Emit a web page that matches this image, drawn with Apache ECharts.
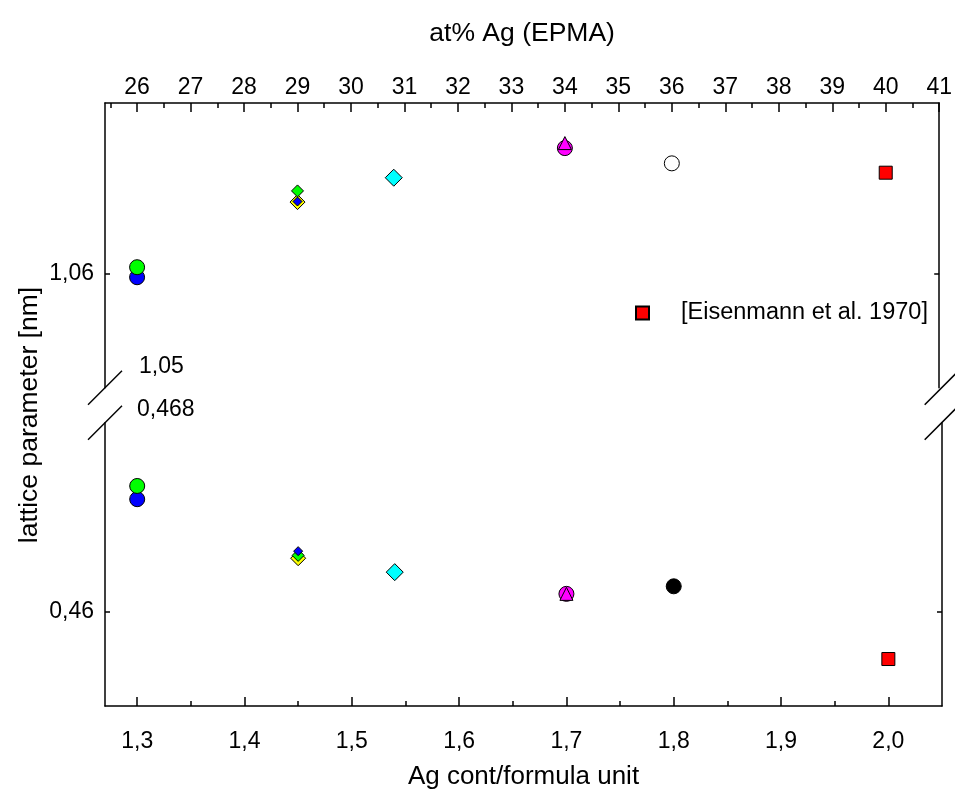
<!DOCTYPE html>
<html>
<head>
<meta charset="utf-8">
<script src="https://cdn.jsdelivr.net/npm/echarts@6/dist/echarts.min.js"></script>
<style>html,body{margin:0;padding:0;background:#fff}#c{width:955px;height:798px}</style>
</head>
<body>
<div id="c"></div>
<script>
// ---- data ----
const seriesNames = ['blueCircle','greenCircle','yellowDiamond','greenDiamond','blueDiamond','cyanDiamond','magentaCircle','magentaTriangle','openCircle','blackCircle','[Eisenmann et al. 1970]'];
const agContent   = [1.30, 1.30, 1.45, 1.45, 1.45, 1.54, 1.70, 1.70, 1.80, 1.80, 2.00];
const upperLattice = [1.0597, 1.06058, 1.0663, 1.06728, 1.06635, 1.06844, 1.07104, 1.07148, 1.0697, null, 1.06888];
const lowerLattice = [0.46476, 0.46532, 0.46226, 0.46238, 0.46256, 0.46167, 0.46075, 0.46075, null, 0.46107, 0.45799];
const bottomTicks = [1.3, 1.4, 1.5, 1.6, 1.7, 1.8, 1.9, 2.0];
const bottomMinorTicks = [1.35, 1.45, 1.55, 1.65, 1.75, 1.85, 1.95];
const topTicks = [26,27,28,29,30,31,32,33,34,35,36,37,38,39,40,41];
const topMinorTicks = [25.5,26.5,27.5,28.5,29.5,30.5,31.5,32.5,33.5,34.5,35.5,36.5,37.5,38.5,39.5,40.5];
const upperTicks = [1.06];
const lowerTicks = [0.46];

// ---- styles ----
const styles = {
  blueCircle:{symbol:'circle',size:15,color:'#0000ff'},
  greenCircle:{symbol:'circle',size:15,color:'#00ff00'},
  yellowDiamond:{symbol:'diamond',size:15,color:'#ffff00'},
  greenDiamond:{symbol:'diamond',size:12,color:'#00ff00'},
  blueDiamond:{symbol:'diamond',size:9,color:'#0000ff'},
  cyanDiamond:{symbol:'diamond',size:17,color:'#00ffff'},
  magentaCircle:{symbol:'circle',size:15,color:'#ff00ff'},
  magentaTriangle:{symbol:'triangle',size:13,color:'#ff00ff'},
  openCircle:{symbol:'circle',size:15,color:'#ffffff'},
  blackCircle:{symbol:'circle',size:15,color:'#000000'},
  '[Eisenmann et al. 1970]':{symbol:'rect',size:13,color:'#ff0000'}
};

const FONT = "'Liberation Sans', Arial, sans-serif";
const xMin = 1.27, xMax = 2.05;
const atFactor = 20; // at% = 20 * Ag content
const comma = (v, d) => Number(v).toFixed(d).replace('.', ',');
const lineStyle = {color:'#000', width:1.5};
const labelStyle = {color:'#000', fontSize:23, fontFamily:FONT};

const series = [];
seriesNames.forEach((n, i) => {
  const st = styles[n];
  const base = {
    name: n, type: 'scatter', symbol: st.symbol, symbolSize: st.size,
    itemStyle: {color: st.color, borderColor: '#000', borderWidth: 1, opacity: 1},
    emphasis: {disabled: true}, z: 2 + i
  };
  if (upperLattice[i] !== null) series.push(Object.assign({}, base, {xAxisIndex:0, yAxisIndex:0, data:[[agContent[i], upperLattice[i]]]}));
  if (lowerLattice[i] !== null) series.push(Object.assign({}, base, {xAxisIndex:2, yAxisIndex:2, data:[[agContent[i], lowerLattice[i]]]}));
});

const gridLeft = 105, gridRight = 13;
const upTop = 103, upBottom = 387.7, loTop = 422.7, loBottom = 706;

const slash = (cx, cy) => ({type:'line', shape:{x1:cx-17, y1:cy+17, x2:cx+17, y2:cy-17}, style:{stroke:'#000', lineWidth:1.5}, z:10});

const option = {
  animation: false,
  backgroundColor: '#fff',
  grid: [
    {left: gridLeft, right: gridRight, top: upTop, height: upBottom - upTop},
    {left: gridLeft, right: gridRight, top: loTop, height: loBottom - loTop}
  ],
  legend: {
    data: ['[Eisenmann et al. 1970]'], left: 630, top: 296, icon: 'rect',
    itemWidth: 13, itemHeight: 13, selectedMode: false,
    textStyle: {color:'#000', fontSize:23.5, fontFamily:FONT, padding:[0,0,0,27]}
  },
  xAxis: [
    {gridIndex:0, type:'value', min:xMin, max:xMax, show:false},
    {gridIndex:0, type:'value', position:'top', min:xMin*atFactor, max:xMax*atFactor,
     name:'at% Ag (EPMA)', nameLocation:'middle', nameGap:56,
     nameTextStyle:{color:'#000', fontSize:26.5, fontFamily:FONT},
     axisLine:{show:true, onZero:false, lineStyle}, splitLine:{show:false},
     axisTick:{show:true, inside:true, length:9, lineStyle, customValues: topTicks},
     axisLabel:{show:true, margin:4, ...labelStyle, customValues: topTicks, formatter: v => String(Math.round(v))}},
    {gridIndex:1, type:'value', position:'bottom', min:xMin, max:xMax,
     name:'Ag cont/formula unit', nameLocation:'middle', nameGap:58,
     nameTextStyle:{color:'#000', fontSize:26, fontFamily:FONT},
     axisLine:{show:true, onZero:false, lineStyle}, splitLine:{show:false},
     axisTick:{show:true, inside:true, length:9, lineStyle, customValues: bottomTicks},
     axisLabel:{show:true, margin:24, ...labelStyle, customValues: bottomTicks, formatter: v => comma(v,1)}},
    {gridIndex:1, type:'value', position:'bottom', min:xMin, max:xMax,
     axisLine:{show:false}, splitLine:{show:false},
     axisTick:{show:true, inside:true, length:5, lineStyle, customValues: bottomMinorTicks},
     axisLabel:{show:false, customValues: bottomMinorTicks}},
    {gridIndex:0, type:'value', position:'top', min:xMin*atFactor, max:xMax*atFactor,
     axisLine:{show:false}, splitLine:{show:false},
     axisTick:{show:true, inside:true, length:5, lineStyle, customValues: topMinorTicks},
     axisLabel:{show:false, customValues: topMinorTicks}}
  ],
  yAxis: [
    {gridIndex:0, type:'value', position:'left', min:1.05, max:1.075,
     axisLine:{show:true, onZero:false, lineStyle}, splitLine:{show:false},
     axisTick:{show:true, inside:true, length:5, lineStyle, customValues: upperTicks},
     axisLabel:{show:true, margin:11, ...labelStyle, customValues: upperTicks, formatter: v => comma(v,2)}},
    {gridIndex:0, type:'value', position:'right', min:1.05, max:1.075,
     axisLine:{show:true, onZero:false, lineStyle}, splitLine:{show:false},
     axisTick:{show:true, inside:true, length:5, lineStyle, customValues: upperTicks},
     axisLabel:{show:false, customValues: upperTicks}},
    {gridIndex:1, type:'value', position:'left', min:0.456, max:0.468,
     axisLine:{show:true, onZero:false, lineStyle}, splitLine:{show:false},
     axisTick:{show:true, inside:true, length:5, lineStyle, customValues: lowerTicks},
     axisLabel:{show:true, margin:11, ...labelStyle, customValues: lowerTicks, formatter: v => comma(v,2)}},
    {gridIndex:1, type:'value', position:'right', min:0.456, max:0.468,
     axisLine:{show:true, onZero:false, lineStyle}, splitLine:{show:false},
     axisTick:{show:true, inside:true, length:5, lineStyle, customValues: lowerTicks},
     axisLabel:{show:false, customValues: lowerTicks}}
  ],
  graphic: [
    slash(105, 387.7), slash(105, 422.7), slash(941.7, 387.7), slash(941.7, 422.7),
    {type:'text', left:139, top:355, style:{text:'1,05', fill:'#000', font:"23px 'Liberation Sans', Arial, sans-serif"}},
    {type:'text', left:137, top:398, style:{text:'0,468', fill:'#000', font:"23px 'Liberation Sans', Arial, sans-serif"}},
    {type:'text', x:30, y:415, rotation:Math.PI/2,
     style:{text:'lattice parameter [nm]', fill:'#000', font:"26.5px 'Liberation Sans', Arial, sans-serif", align:'center', verticalAlign:'middle'}}
  ],
  series
};

echarts.init(document.getElementById('c'), null, {renderer:'canvas'}).setOption(option);
</script>
</body>
</html>
